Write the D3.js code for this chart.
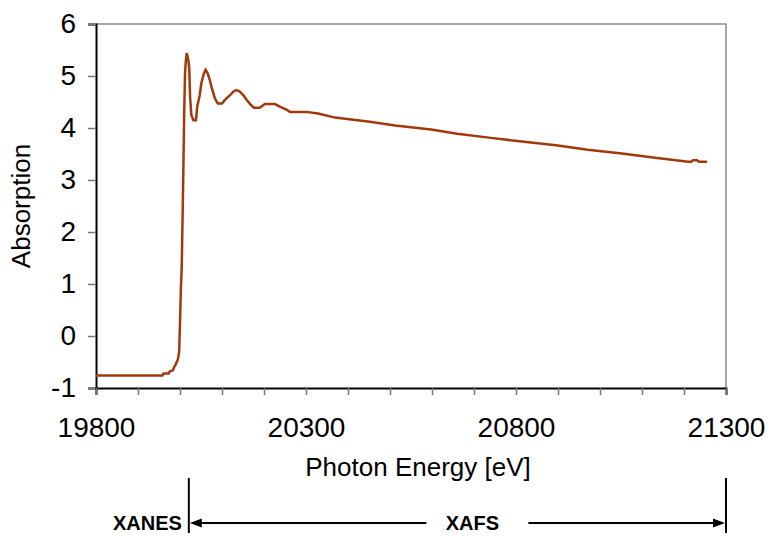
<!DOCTYPE html>
<html>
<head>
<meta charset="utf-8">
<script src="https://cdn.jsdelivr.net/npm/d3@7"></script>
<style>
  body { margin: 0; background: #fff; }
  svg { font-family: "Liberation Sans", Arial, sans-serif; }
</style>
</head>
<body>
<div id="chart"></div>
<script>
// energy (eV) and absorption
const energy = [19800, 19958, 19961, 19973, 19976, 19983, 19986, 19990, 19995, 19998,
  20000, 20002, 20004, 20006, 20008, 20010, 20012, 20014, 20016, 20020,
  20022, 20024, 20027, 20032, 20038, 20041, 20047, 20051, 20057, 20061,
  20066, 20071, 20076, 20083, 20090, 20100, 20107, 20119, 20127, 20133,
  20141, 20151, 20159, 20167, 20176, 20190, 20202, 20226, 20238, 20254,
  20262, 20300, 20329, 20369, 20452, 20512, 20598, 20660, 20740, 20814,
  20895, 20971, 21052, 21131, 21210, 21217, 21221, 21231, 21236, 21255];
const absorption = [-0.76, -0.76, -0.72, -0.72, -0.68, -0.66, -0.60, -0.54, -0.45, -0.30,
  0.25, 0.90, 1.29, 2.20, 3.20, 4.30, 5.05, 5.30, 5.44, 5.30,
  5.15, 4.60, 4.25, 4.15, 4.15, 4.41, 4.63, 4.87, 5.05, 5.12,
  5.05, 4.92, 4.76, 4.57, 4.47, 4.47, 4.54, 4.63, 4.70, 4.73,
  4.71, 4.63, 4.54, 4.46, 4.39, 4.39, 4.46, 4.46, 4.41, 4.35,
  4.31, 4.31, 4.28, 4.20, 4.12, 4.05, 3.97, 3.89, 3.81, 3.74,
  3.67, 3.58, 3.51, 3.43, 3.35, 3.35, 3.38, 3.38, 3.35, 3.35];

const xTicks = [19800, 20300, 20800, 21300];
const yTicks = [-1, 0, 1, 2, 3, 4, 5, 6];
const regionBounds = [20021, 21300]; // XANES / XAFS boundaries

const config = { width: 770, height: 536, left: 96, top: 24, plotW: 630, plotH: 364 };

const svg = d3.select('#chart').append('svg')
  .attr('width', config.width)
  .attr('height', config.height);

const g = svg.append('g')
  .attr('transform', `translate(${config.left}, ${config.top})`);

const x = d3.scaleLinear().domain([19800, 21300]).range([0, config.plotW]);
const y = d3.scaleLinear().domain([-1, 6]).range([config.plotH, 0]);

// plot frame (top and right in grey)
g.append('path')
  .attr('d', `M0,0H${config.plotW}V${config.plotH}`)
  .attr('fill', 'none')
  .attr('stroke', '#8c8c8c')
  .attr('stroke-width', 1.5);

// y axis
const yAxis = g.append('g')
  .call(d3.axisLeft(y).tickValues(yTicks).tickSize(8).tickPadding(12).tickFormat(d => String(d)));
yAxis.select('.domain').attr('stroke', '#000').attr('stroke-width', 2);
yAxis.selectAll('.tick line').attr('stroke', '#777').attr('stroke-width', 1.5);
yAxis.selectAll('.tick text').attr('font-size', 28).attr('fill', '#000');

// x axis with minor ticks every 100 eV
const xAxis = g.append('g')
  .attr('transform', `translate(0, ${config.plotH})`)
  .call(d3.axisBottom(x).tickValues(d3.range(19800, 21301, 100)).tickSize(7).tickPadding(22)
    .tickFormat(d => xTicks.includes(d) ? String(d) : ''));
xAxis.select('.domain').attr('stroke', '#000').attr('stroke-width', 2);
xAxis.selectAll('.tick line').attr('stroke', '#777').attr('stroke-width', 1.5);
xAxis.selectAll('.tick text').attr('font-size', 28).attr('fill', '#000');

// spectrum
const line = d3.line()
  .x((d, i) => x(energy[i]))
  .y((d, i) => y(absorption[i]));

g.append('path')
  .datum(energy)
  .attr('d', line)
  .attr('fill', 'none')
  .attr('stroke', '#a03a0c')
  .attr('stroke-width', 2.5)
  .attr('stroke-linejoin', 'miter');

// axis titles
g.append('text')
  .attr('x', config.plotW / 2 + 7)
  .attr('y', config.plotH + 88)
  .attr('text-anchor', 'middle')
  .attr('font-size', 26)
  .text('Photon Energy [eV]');

g.append('text')
  .attr('transform', `translate(${-66}, ${config.plotH / 2}) rotate(-90)`)
  .attr('text-anchor', 'middle')
  .attr('font-size', 26)
  .text('Absorption');

// XANES / XAFS region annotation
const ann = g.append('g').attr('transform', `translate(0, ${config.plotH + 90})`);
const x0 = x(regionBounds[0]);
const x1 = x(regionBounds[1]);
const arrowY = 45;

ann.selectAll('.bound')
  .data(regionBounds)
  .join('line')
  .attr('class', 'bound')
  .attr('x1', d => x(d)).attr('x2', d => x(d))
  .attr('y1', 0).attr('y2', 55)
  .attr('stroke', '#000')
  .attr('stroke-width', 2);

const xafsMid = (x0 + x1) / 2 + 15;
ann.append('line')
  .attr('x1', x0 + 8).attr('x2', xafsMid - 46)
  .attr('y1', arrowY).attr('y2', arrowY)
  .attr('stroke', '#000').attr('stroke-width', 2);
ann.append('line')
  .attr('x1', xafsMid + 56).attr('x2', x1 - 8)
  .attr('y1', arrowY).attr('y2', arrowY)
  .attr('stroke', '#000').attr('stroke-width', 2);

ann.append('path')
  .attr('d', `M${x0 + 1},${arrowY}L${x0 + 13},${arrowY - 4.5}L${x0 + 13},${arrowY + 4.5}Z`)
  .attr('fill', '#000');
ann.append('path')
  .attr('d', `M${x1 - 1},${arrowY}L${x1 - 13},${arrowY - 4.5}L${x1 - 13},${arrowY + 4.5}Z`)
  .attr('fill', '#000');

ann.append('text')
  .attr('x', x0 - 7)
  .attr('y', arrowY + 7)
  .attr('text-anchor', 'end')
  .attr('font-size', 20)
  .attr('font-weight', 'bold')
  .text('XANES');

ann.append('text')
  .attr('x', xafsMid)
  .attr('y', arrowY + 7)
  .attr('text-anchor', 'middle')
  .attr('font-size', 20)
  .attr('font-weight', 'bold')
  .text('XAFS');
</script>
</body>
</html>
